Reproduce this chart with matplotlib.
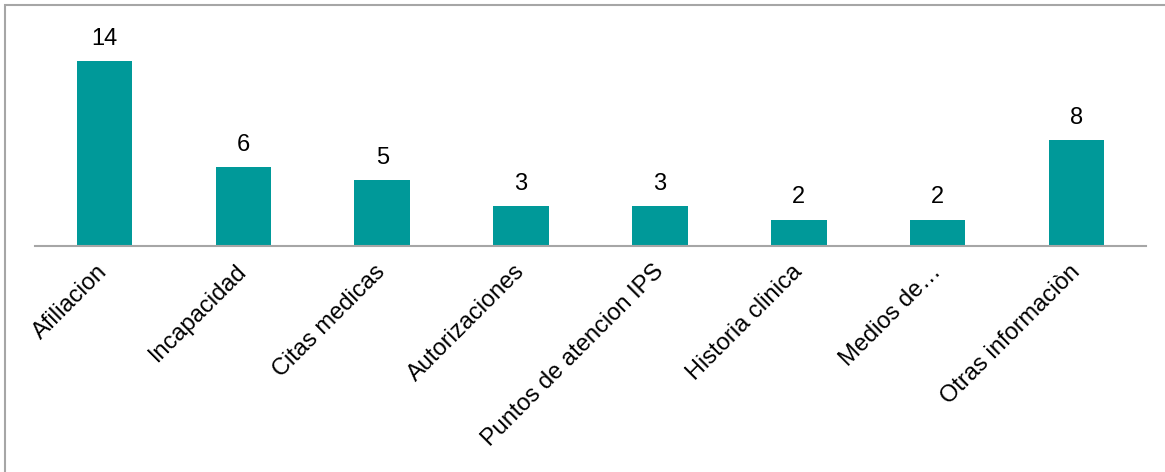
import matplotlib.pyplot as plt
from matplotlib.patches import Rectangle

categories = ["Afiliacion", "Incapacidad", "Citas medicas", "Autorizaciones",
              "Puntos de atencion IPS", "Historia clinica", "Medios de…",
              "Otras informaciòn"]
values = [14, 6, 5, 3, 3, 2, 2, 8]

plt.rcParams['font.family'] = ['Liberation Sans', 'DejaVu Sans']

W, H = 1165, 472
fig = plt.figure(figsize=(W / 100, H / 100), dpi=100)

# gray frame around the chart area
fig.patches.append(Rectangle((5 / W, -0.5), 2, 1.5 - 5 / H, transform=fig.transFigure,
                             fill=False, edgecolor='#A6A6A6', linewidth=1.5))

ax = fig.add_axes([35 / W, 1 - 246 / H, (1146 - 35) / W, (246 - 20) / H])
x = range(len(categories))
bars = ax.bar(x, values, width=0.4, color='#009999')
ax.set_xlim(-0.5, len(categories) - 0.5)
ax.set_ylim(0, 226 / 13.2)

for b, v in zip(bars, values):
    ax.annotate(str(v), (b.get_x() + b.get_width() / 2, v), xytext=(0, 8),
                textcoords='offset points', ha='center', va='bottom', fontsize=17)

ax.set_xticks(list(x))
ax.set_xticklabels(categories, rotation=45, ha='right', va='center',
                   rotation_mode='anchor', fontsize=17)
ax.tick_params(axis='x', length=0, pad=16)
ax.set_yticks([])
for s in ['top', 'right', 'left']:
    ax.spines[s].set_visible(False)
ax.spines['bottom'].set_color('#A6A6A6')
ax.spines['bottom'].set_linewidth(1.5)

fig.savefig('out.png', dpi=100)
